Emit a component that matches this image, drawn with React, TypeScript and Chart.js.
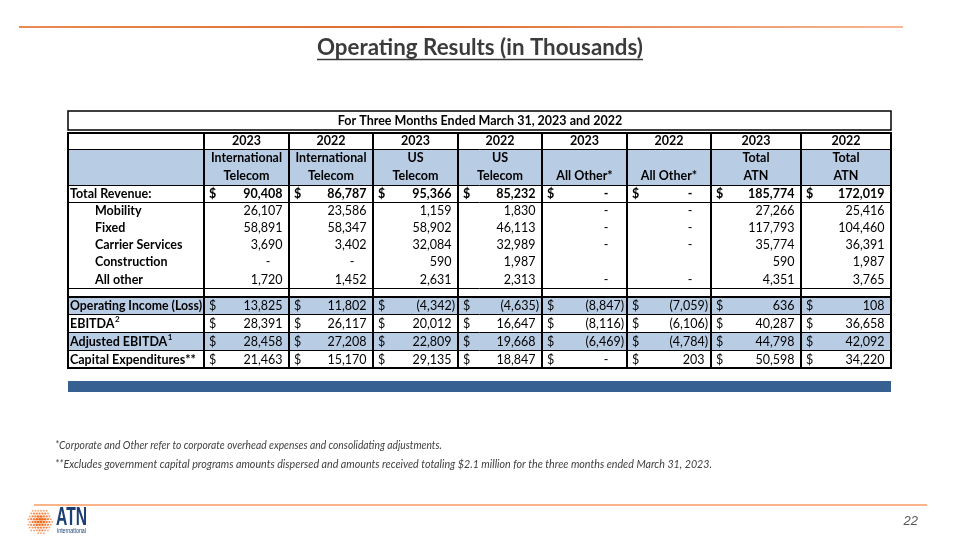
import React, { useEffect, useRef } from "react";
import { Chart, registerables } from "chart.js";

Chart.register(...registerables);

// ---------------- DATA ----------------
const pageTitle = "Operating Results (in Thousands)";
const periodTitle = "For Three Months Ended March 31, 2023 and 2022";
const years = ["2023", "2022", "2023", "2022", "2023", "2022", "2023", "2022"];
const segmentTop = ["International", "International", "US", "US", "", "", "Total", "Total"];
const segmentBottom = ["Telecom", "Telecom", "Telecom", "Telecom", "All Other*", "All Other*", "ATN", "ATN"];
const rowLabels = [
  "Total Revenue:",
  "Mobility",
  "Fixed",
  "Carrier Services",
  "Construction",
  "All other",
  "",
  "Operating Income (Loss)",
  "EBITDA",
  "Adjusted EBITDA",
  "Capital Expenditures**",
];
const rowSuperscripts = ["", "", "", "", "", "", "", "", "2", "1", ""];

const totalRevenue = [90408, 86787, 95366, 85232, 0, 0, 185774, 172019];
const mobility = [26107, 23586, 1159, 1830, 0, 0, 27266, 25416];
const fixed = [58891, 58347, 58902, 46113, 0, 0, 117793, 104460];
const carrierServices = [3690, 3402, 32084, 32989, 0, 0, 35774, 36391];
const construction = [0, 0, 590, 1987, null, null, 590, 1987];
const allOther = [1720, 1452, 2631, 2313, 0, 0, 4351, 3765];
const blankRow = [null, null, null, null, null, null, null, null];
const operatingIncome = [13825, 11802, -4342, -4635, -8847, -7059, 636, 108];
const ebitda = [28391, 26117, 20012, 16647, -8116, -6106, 40287, 36658];
const adjustedEbitda = [28458, 27208, 22809, 19668, -6469, -4784, 44798, 42092];
const capitalExpenditures = [21463, 15170, 29135, 18847, 0, 203, 50598, 34220];

const rowValues = [
  totalRevenue,
  mobility,
  fixed,
  carrierServices,
  construction,
  allOther,
  blankRow,
  operatingIncome,
  ebitda,
  adjustedEbitda,
  capitalExpenditures,
];
const rowHasDollar = [true, false, false, false, false, false, false, true, true, true, true];
const rowValuesBold = [true, false, false, false, false, false, false, false, false, false, false];
const rowIndented = [false, true, true, true, true, true, false, false, false, false, false];
const rowShaded = [false, false, false, false, false, false, false, true, false, true, false];

const footnotes = [
  "*Corporate and Other refer to corporate overhead expenses and consolidating adjustments.",
  "**Excludes government capital programs amounts dispersed and amounts received totaling $2.1 million for the three months ended March 31, 2023.",
];
const footnoteWidths = [387, 657];
const pageNumber = "22";
const logoName = "ATN";
const logoSub = "international";

// ---------------- LAYOUT (scale units) ----------------
const colEdges = [68, 204, 289, 373, 458, 542, 627, 711, 801, 891];
const rowEdges = [185, 202, 219, 236, 253, 270, 288, 297, 314, 332, 350, 368];
const TABLE_TOP = 133;
const YEAR_BOTTOM = 149;
const HEADER_BOTTOM = 185;

const FONT = "Lato, 'Open Sans', sans-serif";
const FS = 12.5;
const SHADE = "#B8CCE4";

function fmt(v: number | null): string {
  if (v === null) return "";
  if (v === 0) return "-";
  const s = Math.abs(v).toLocaleString("en-US");
  return v < 0 ? `(${s})` : s;
}

const tablePlugin = {
  id: "tableDraw",
  beforeDraw(chart: any) {
    const c = chart.ctx;
    c.save();
    c.fillStyle = "#ffffff";
    c.fillRect(0, 0, chart.width, chart.height);
    c.restore();
  },
  afterDraw(chart: any) {
    const sx = chart.scales.x;
    const sy = chart.scales.y;
    const X = (v: number) => sx.getPixelForValue(v);
    const Y = (v: number) => sy.getPixelForValue(v);
    const ctx: CanvasRenderingContext2D = chart.ctx;
    ctx.save();

    const hline = (y: number, x0: number, x1: number, w: number, color = "#000") => {
      ctx.strokeStyle = color;
      ctx.lineWidth = w;
      ctx.beginPath();
      const yy = Math.round(Y(y)) + (w % 2 === 1 ? 0.5 : 0);
      ctx.moveTo(X(x0), yy);
      ctx.lineTo(X(x1), yy);
      ctx.stroke();
    };
    const vline = (x: number, y0: number, y1: number, w: number, color = "#000") => {
      ctx.strokeStyle = color;
      ctx.lineWidth = w;
      ctx.beginPath();
      const xx = Math.round(X(x)) + (w % 2 === 1 ? 0.5 : 0);
      ctx.moveTo(xx, Y(y0));
      ctx.lineTo(xx, Y(y1));
      ctx.stroke();
    };
    const text = (
      s: string,
      x: number,
      y: number,
      opts: { size?: number; bold?: boolean; italic?: boolean; align?: CanvasTextAlign; color?: string; maxW?: number; family?: string } = {}
    ) => {
      const size = opts.size ?? FS;
      ctx.font = `${opts.italic ? "italic " : ""}${opts.bold ? "bold " : ""}${size}px ${opts.family ?? FONT}`;
      ctx.fillStyle = opts.color ?? "#000";
      ctx.textAlign = opts.align ?? "left";
      ctx.textBaseline = "middle";
      if (opts.maxW) ctx.fillText(s, X(x), Y(y), opts.maxW);
      else ctx.fillText(s, X(x), Y(y));
    };

    // top orange rule
    const g = ctx.createLinearGradient(X(19), 0, X(903), 0);
    g.addColorStop(0, "#E98A55");
    g.addColorStop(0.45, "#DD6A2C");
    g.addColorStop(1, "#F7B795");
    ctx.strokeStyle = g;
    ctx.lineWidth = 2;
    ctx.beginPath();
    ctx.moveTo(X(19), Y(27));
    ctx.lineTo(X(903), Y(27));
    ctx.stroke();

    // title
    const TS = 22.5;
    ctx.font = `bold ${TS}px ${FONT}`;
    const tw = Math.min(ctx.measureText(pageTitle).width, 326);
    text(pageTitle, 480, 48, { size: TS, bold: true, align: "center", color: "#3B3B3B", maxW: 326 });
    ctx.strokeStyle = "#3B3B3B";
    ctx.lineWidth = 1.5;
    ctx.beginPath();
    ctx.moveTo(X(480) - tw / 2, Y(59.5));
    ctx.lineTo(X(480) + tw / 2, Y(59.5));
    ctx.stroke();

    // period title box
    ctx.strokeStyle = "#000";
    ctx.lineWidth = 1.5;
    ctx.strokeRect(X(68), Y(111), X(891) - X(68), Y(130) - Y(111));
    text(periodTitle, 480, 121, { bold: true, align: "center", maxW: 298 });

    // shaded header band
    ctx.fillStyle = SHADE;
    ctx.fillRect(X(68), Y(YEAR_BOTTOM), X(891) - X(68), Y(HEADER_BOTTOM) - Y(YEAR_BOTTOM));
    // shaded rows
    rowShaded.forEach((sh, r) => {
      if (!sh) return;
      ctx.fillStyle = SHADE;
      ctx.fillRect(X(68), Y(rowEdges[r]), X(891) - X(68), Y(rowEdges[r + 1]) - Y(rowEdges[r]));
    });

    // header texts
    years.forEach((yr, i) => {
      const cx = (colEdges[i + 1] + colEdges[i + 2]) / 2;
      text(yr, cx, 141, { bold: true, align: "center" });
      if (segmentTop[i]) text(segmentTop[i], cx, 158, { bold: true, align: "center", maxW: 71 });
      text(segmentBottom[i], cx, 176, { bold: true, align: "center", maxW: 71 });
    });

    // body rows
    rowLabels.forEach((label, r) => {
      const cy = (rowEdges[r] + rowEdges[r + 1]) / 2 + 0.5;
      if (label) {
        const lx = rowIndented[r] ? 95 : 70;
        text(label, lx, cy, { bold: true, maxW: 132 });
        if (rowSuperscripts[r]) {
          ctx.font = `bold ${FS}px ${FONT}`;
          const w = ctx.measureText(label).width;
          text(rowSuperscripts[r], lx + w + 0.5, cy - 4, { size: 8, bold: true });
        }
      }
      rowValues[r].forEach((v, i) => {
        const left = colEdges[i + 1];
        const right = colEdges[i + 2];
        const bold = rowValuesBold[r];
        if (rowHasDollar[r]) text("$", left + 5, cy, { bold });
        const s = fmt(v);
        if (!s) return;
        if (s === "-") text(s, right - 21, cy, { bold, align: "center" });
        else if (v !== null && v < 0) text(s, right - 3, cy, { bold, align: "right" });
        else text(s, right - 6.5, cy, { bold, align: "right" });
      });
    });

    // grid lines
    hline(TABLE_TOP, 67, 892, 2);
    hline(YEAR_BOTTOM, 68, 891, 1);
    hline(HEADER_BOTTOM, 68, 891, 1);
    hline(rowEdges[1], 68, 891, 1);
    hline(rowEdges[6], 68, 891, 1);
    hline(rowEdges[7], 68, 891, 2);
    hline(rowEdges[8], 68, 891, 1);
    hline(rowEdges[9], 68, 891, 1);
    hline(rowEdges[10], 68, 891, 1);
    hline(rowEdges[11], 67, 892, 2);
    colEdges.forEach((cx) => vline(cx, TABLE_TOP, rowEdges[11], 2));

    // blue band
    ctx.fillStyle = "#376092";
    ctx.fillRect(X(68), Y(381), X(891) - X(68), Y(392) - Y(381));

    // footnotes
    footnotes.forEach((f, i) => {
      text(f, 55, 446 + i * 19, { size: 10.8, italic: true, color: "#404040", maxW: footnoteWidths[i] });
    });

    // bottom orange rule
    ctx.strokeStyle = "#FBB38A";
    ctx.lineWidth = 2;
    ctx.beginPath();
    ctx.moveTo(X(34), Y(505));
    ctx.lineTo(X(927), Y(505));
    ctx.stroke();

    // page number
    text(pageNumber, 918, 521, { size: 13, italic: true, align: "right", color: "#555", family: "'Liberation Sans', Arial, sans-serif" });

    // logo: dotted sphere
    const lcx = X(40), lcy = Y(521), R = 13;
    for (let gy = -R; gy <= R; gy += 2.8) {
      const rowOff = (Math.round(gy / 2.8) % 2 === 0 ? 0 : 1.4);
      for (let gx = -R; gx <= R; gx += 2.8) {
        const px = gx + rowOff;
        const d = Math.hypot(px, gy);
        if (d > R) continue;
        const t = d / R;
        ctx.fillStyle = t < 0.45 ? "#F26A1B" : t < 0.75 ? "#F48443" : "#F7A878";
        ctx.beginPath();
        ctx.arc(lcx + px, lcy + gy, 1.45 * (1 - 0.35 * t), 0, Math.PI * 2);
        ctx.fill();
      }
    }
    text(logoName, 56, 517.5, { size: 26, bold: true, color: "#1C3F74", family: "'Liberation Sans', Arial, sans-serif", maxW: 31 });
    text(logoSub, 57, 531, { size: 6.5, color: "#1C3F74", family: "'Liberation Sans', Arial, sans-serif", maxW: 29 });

    ctx.restore();
  },
};

export default function App() {
  const ref = useRef<HTMLCanvasElement | null>(null);
  useEffect(() => {
    document.body.style.margin = "0";
    const canvas = ref.current;
    if (!canvas) return;
    const chart = new Chart(canvas, {
      type: "scatter",
      data: { datasets: [] },
      options: {
        animation: false,
        responsive: false,
        maintainAspectRatio: false,
        events: [],
        layout: { padding: 0 },
        plugins: { legend: { display: false }, tooltip: { enabled: false }, title: { display: false } },
        scales: {
          x: { type: "linear", min: 0, max: 960, display: false },
          y: { type: "linear", min: 0, max: 540, reverse: true, display: false },
        },
      },
      plugins: [tablePlugin],
    } as any);
    return () => chart.destroy();
  }, []);
  return (
    <div style={{ position: "absolute", left: 0, top: 0, width: 960, height: 540, background: "#fff" }}>
      <canvas ref={ref} width={960} height={540} style={{ display: "block", width: 960, height: 540 }} />
    </div>
  );
}
